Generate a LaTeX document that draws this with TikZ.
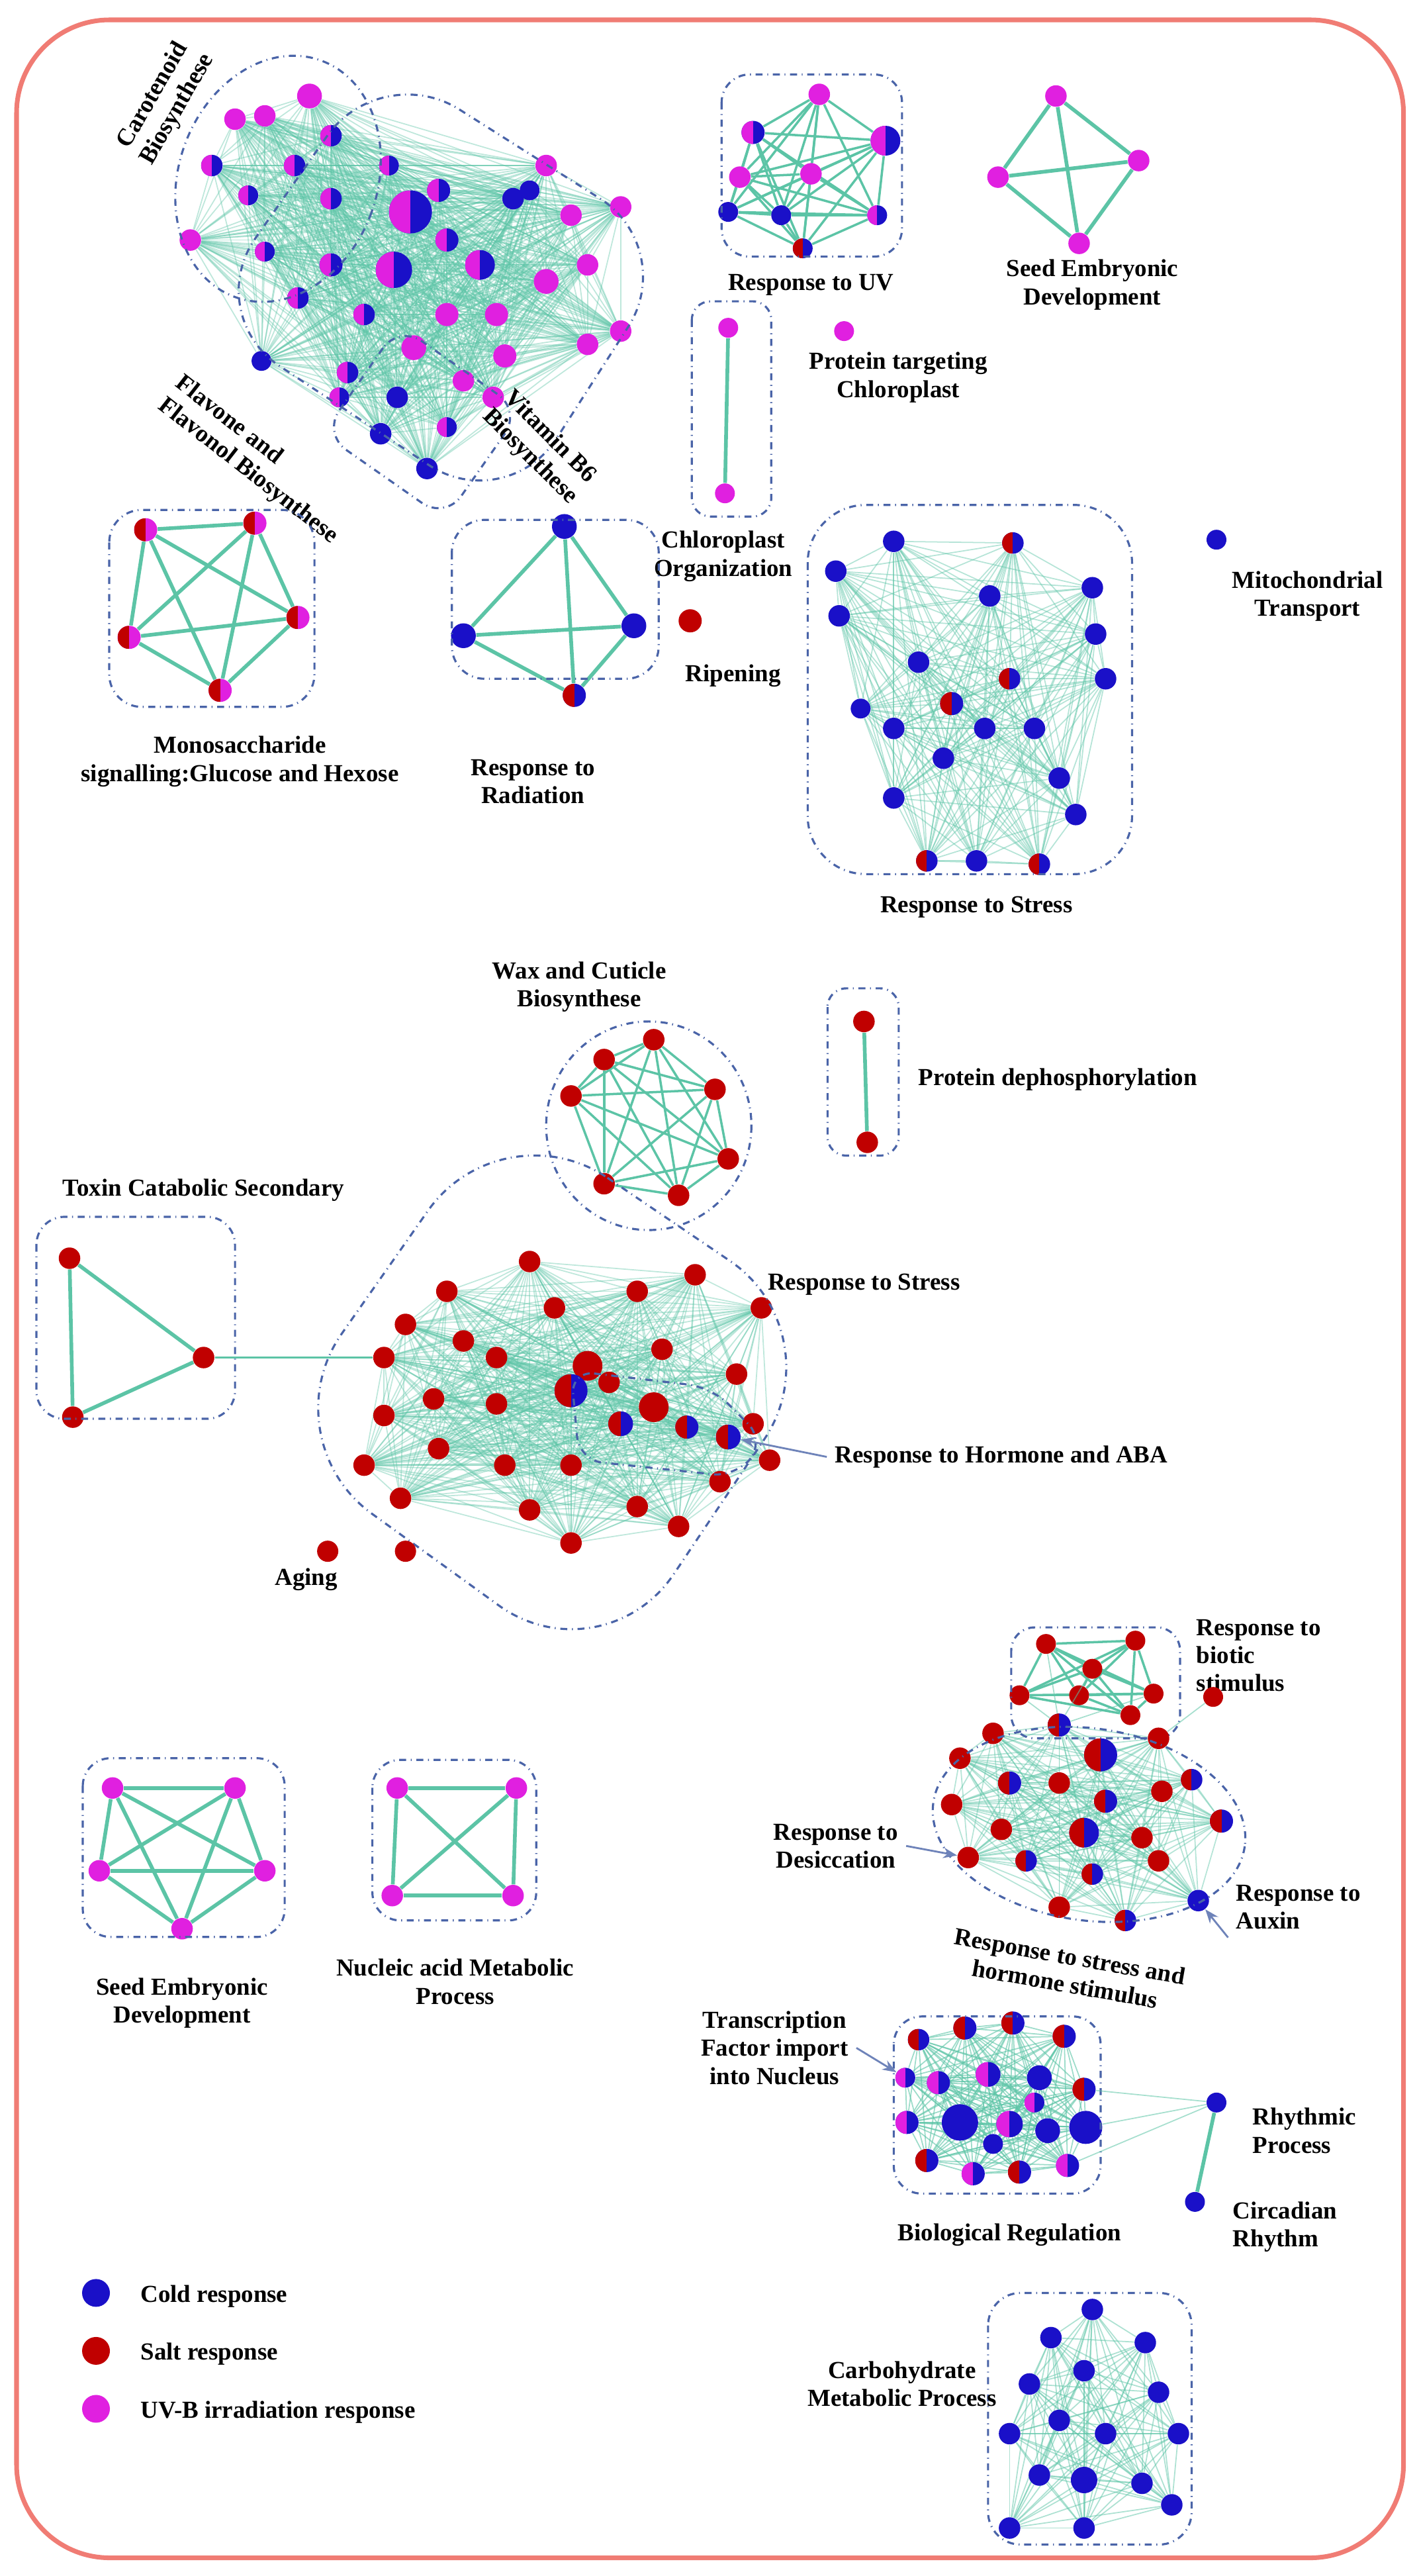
\documentclass[tikz,border=0pt]{standalone}
\usepackage{fontspec}
\setmainfont{Liberation Serif}
\usetikzlibrary{backgrounds,arrows.meta,shapes.geometric}
\definecolor{cB}{HTML}{1A10C8}
\definecolor{cR}{HTML}{C00000}
\definecolor{cU}{HTML}{E020E0}
\definecolor{cE}{HTML}{5CC4A6}
\definecolor{cF}{HTML}{F07C74}
\definecolor{cD}{HTML}{4A64A8}
\tikzset{
 x=0.025cm,y=-0.025cm,
 nd/.style={circle,inner sep=0pt,draw=none},
 nb/.style={nd,fill=cB}, nr/.style={nd,fill=cR}, nu/.style={nd,fill=cU},
 sp/.style 2 args={nd,fill=#2,path picture={\fill[#1] (path picture bounding box.south west) rectangle (path picture bounding box.north);}},
 nbr/.style={sp={cR}{cB}}, nbu/.style={sp={cU}{cB}}, nru/.style={sp={cR}{cU}},
 edge/.style={draw=cE,line width=0.5pt,opacity=0.55},
 edgeT/.style={draw=cE,line width=1.6pt},
 reg/.style={draw=cD,dash dot,line width=0.9pt},
 lab/.style={font=\fontsize{10.5}{12}\selectfont\bfseries,align=center},
 arr/.style={draw=cD!80,-{Stealth[length=6pt]},line width=0.8pt}
}
\newcommand\mkclust[4]{%
 \foreach \i/\x/\y/\t/\r in {#2} {\node[\t,minimum size=\r*0.025cm] (#1\i) at (\x,\y) {};}
 \begin{pgfonlayer}{background}
 \foreach \i in {1,...,#3} {\foreach \j in {1,...,#3} {\ifnum\i<\j \draw[#4] (#1\i)--(#1\j);\fi}}
 \end{pgfonlayer}}
\begin{document}
\begin{tikzpicture}
\useasboundingbox (0,0) rectangle (857,1556);
\draw[cF,line width=2pt,rounded corners=40] (10,12) rectangle (848,1545);
% ---- cluster A
\mkclust{a}{1/142/72/nu/13,2/160/70/nu/13,3/187/58/nu/15,4/200/82/nbu/13,5/128/100/nbu/13,6/150/118/nbu/12,7/115/145/nu/13,8/160/152/nbu/12,9/178/100/nbu/13,10/200/120/nbu/13,11/235/100/nbu/12,12/248/128/nbu/26,13/238/163/nbu/22,14/265/115/nbu/14,15/270/145/nbu/14,16/290/160/nbu/18,17/310/120/nb/13,18/330/100/nu/13,19/345/130/nu/13,20/375/125/nu/13,21/355/160/nu/13,22/330/170/nu/15,23/300/190/nu/14,24/270/190/nu/14,25/250/210/nu/15,26/220/190/nbu/13,27/200/160/nbu/14,28/180/180/nbu/13,29/210/225/nbu/13,30/240/240/nb/13,31/280/230/nu/13,32/305/215/nu/14,33/270/258/nbu/12,34/230/262/nb/13,35/205/240/nbu/12,36/298/240/nu/13,37/258/283/nb/13,38/158/218/nb/12,39/375/200/nu/13,40/320/115/nb/12,41/355/208/nu/13}{41}{edge,opacity=0.4}
\draw[reg,rotate around={-20:(168,108)}] (168,108) ellipse [x radius=60,y radius=76];
\draw[reg,rounded corners=40] (230,36)--(410,150)--(306,312)--(122,190)--cycle;
\draw[reg,rounded corners=12,rotate around={-35:(255,255)}] (210,215) rectangle (300,295);
\node[lab,rotate=60] (tA1) at (100,62) {Carotenoid\\Biosynthese};
\node[lab,rotate=-38,align=left] (tA2) at (155,278) {Flavone and\\Flavonol Biosynthese};
\node[lab,rotate=-45] (tA3) at (326,270) {Vitamin B6\\Biosynthese};
% ---- Response to UV
\mkclust{b}{1/495/57/nu/13,2/455/80/nbu/14,3/535/85/nbu/18,4/447/107/nu/13,5/490/105/nu/13,6/440/128/nb/12,7/472/130/nb/12,8/530/130/nbu/12,9/485/150/nbr/12}{9}{edgeT,line width=1pt}
\draw[reg,rounded corners=12] (436,45) rectangle (545,155);
\node[lab] (tB) at (490,172) {Response to UV};
% ---- Seed top
\mkclust{c}{1/638/58/nu/13,2/603/107/nu/13,3/688/97/nu/13,4/652/147/nu/13}{4}{edgeT}
\node[lab] (tC) at (660,172) {Seed Embryonic\\Development};
% ---- Chloroplast
\mkclust{d}{1/440/198/nu/12,2/438/298/nu/12}{2}{edgeT}
\draw[reg,rounded corners=8] (418,182) rectangle (466,312);
\node[lab] (tD) at (437,336) {Chloroplast\\Organization};
\node[nu,minimum size=0.3cm] (pt) at (510,200) {};
\node[lab,anchor=west] (tPT) at (484,228) {Protein targeting\\Chloroplast};
\node[nb,minimum size=0.3cm] (mt) at (735,326) {};
\node[lab] (tMT) at (790,360) {Mitochondrial\\Transport};
% ---- Monosaccharide
\mkclust{e}{1/88/320/nru/14,2/154/316/nru/14,3/78/385/nru/14,4/180/373/nru/14,5/133/417/nru/14}{5}{edgeT}
\draw[reg,rounded corners=14] (66,308) rectangle (190,427);
\node[lab] (tE) at (145,460) {Monosaccharide\\signalling:Glucose and Hexose};
% ---- Radiation
\mkclust{f}{1/341/318/nb/15,2/280/384/nb/15,3/383/378/nb/15,4/347/420/nbr/14}{4}{edgeT}
\draw[reg,rounded corners=14] (273,314) rectangle (398,410);
\node[lab] (tF) at (322,472) {Response to\\Radiation};
\node[nr,minimum size=0.35cm] (rp) at (417,375) {};
\node[lab] (tRP) at (443,408) {Ripening};
% ---- Response to Stress top
\mkclust{g}{1/540/327/nb/13,2/612/328/nbr/13,3/505/345/nb/13,4/598/360/nb/13,5/660/355/nb/13,6/507/372/nb/13,7/662/383/nb/13,8/555/400/nb/13,9/575/425/nbr/14,10/610/410/nbr/13,11/625/440/nb/13,12/595/440/nb/13,13/540/440/nb/13,14/570/458/nb/13,15/668/410/nb/13,16/640/470/nb/13,17/540/482/nb/13,18/560/520/nbr/13,19/590/520/nb/13,20/628/522/nbr/13,21/650/492/nb/13,22/520/428/nb/12}{22}{edge,opacity=0.45}
\draw[reg,rounded corners=25] (488,305) rectangle (684,528);
\node[lab] (tG) at (590,548) {Response to Stress};
% ---- Wax
\mkclust{h}{1/365/640/nr/13,2/395/628/nr/13,3/432/658/nr/13,4/345/662/nr/13,5/440/700/nr/13,6/365/715/nr/13,7/410/722/nr/13}{7}{edgeT,line width=1pt}
\draw[reg] (392,680) ellipse [x radius=62,y radius=63];
\node[lab] (tH) at (350,596) {Wax and Cuticle\\Biosynthese};
\mkclust{p}{1/522/617/nr/13,2/524/690/nr/13}{2}{edgeT}
\draw[reg,rounded corners=8] (500,597) rectangle (543,698);
\node[lab,anchor=west] (tP) at (550,652) {Protein dephosphorylation};
% ---- big red cluster
\mkclust{m}{1/320/762/nr/13,2/270/780/nr/13,3/335/790/nr/13,4/385/780/nr/13,5/420/770/nr/13,6/460/790/nr/13,7/232/820/nr/13,8/245/800/nr/13,9/300/820/nr/13,10/355/825/nr/18,11/400/815/nr/13,12/445/830/nr/13,13/232/855/nr/13,14/262/845/nr/13,15/300/848/nr/13,16/345/840/nbr/20,17/395/850/nr/18,18/375/860/nbr/15,19/415/862/nbr/14,20/455/860/nr/13,21/220/885/nr/13,22/265/875/nr/13,23/305/885/nr/13,24/242/905/nr/13,25/345/885/nr/13,26/440/868/nbr/15,27/465/882/nr/13,28/320/912/nr/13,29/345/932/nr/13,30/385/910/nr/13,31/410/922/nr/13,32/435/895/nr/13,33/368/835/nr/13,34/280/810/nr/13}{34}{edge,opacity=0.4}
\draw[reg,rounded corners=55] (303,668)--(505,805)--(364,1015)--(162,869)--cycle;
\draw[reg,rounded corners=10] (345,828)--(430,838)--(462,870)--(445,892)--(350,882)--cycle;
\node[lab] (tM) at (522,776) {Response to Stress};
\node[lab] (tHA) at (605,880) {Response to Hormone and ABA};
\draw[arr] (tHA.west) -- (m26);
% toxin
\mkclust{t}{1/42/760/nr/13,2/123/820/nr/13,3/44/856/nr/13}{3}{edgeT}
\draw[edgeT,line width=0.8pt] (t2) -- (m7);
\draw[reg,rounded corners=12] (22,735) rectangle (142,857);
\node[lab] (tT) at (123,719) {Toxin Catabolic Secondary};
\node[nr,minimum size=0.32cm] (ag1) at (198,937) {};
\node[nr,minimum size=0.32cm] (ag2) at (245,937) {};
\node[lab] (tAG) at (185,954) {Aging};
% ---- seed bottom
\mkclust{s}{1/68/1080/nu/13,2/142/1080/nu/13,3/60/1130/nu/13,4/160/1130/nu/13,5/110/1165/nu/13}{5}{edgeT}
\draw[reg,rounded corners=12] (50,1062) rectangle (172,1170);
\node[lab] (tS) at (110,1210) {Seed Embryonic\\Development};
\mkclust{n}{1/240/1080/nu/13,2/312/1080/nu/13,3/237/1145/nu/13,4/310/1145/nu/13}{4}{edgeT}
\draw[reg,rounded corners=12] (225,1063) rectangle (324,1160);
\node[lab] (tN) at (275,1197) {Nucleic acid Metabolic\\Process};
% ---- biotic
\mkclust{q}{1/632/993/nr/12,2/686/991/nr/12,3/697/1023/nr/12,4/652/1024/nr/12,5/616/1024/nr/12,6/683/1036/nr/12,7/660/1008/nr/12}{7}{edgeT,line width=1pt}
\draw[reg,rounded corners=10] (611,983) rectangle (713,1050);
\node[lab,align=left,anchor=west] (tQ) at (718,1000) {Response to\\biotic\\stimulus};
\node[nr,minimum size=0.3cm] (q8) at (733,1025) {};
% ---- stress/hormone
\mkclust{k}{1/600/1047/nr/13,2/640/1042/nbr/14,3/665/1060/nbr/20,4/700/1050/nr/13,5/580/1062/nr/13,6/575/1090/nr/13,7/610/1077/nbr/14,8/640/1077/nr/13,9/668/1088/nbr/14,10/702/1082/nr/13,11/738/1100/nbr/14,12/605/1105/nr/13,13/655/1107/nbr/18,14/690/1110/nr/13,15/585/1122/nr/13,16/620/1124/nbr/13,17/660/1132/nbr/13,18/700/1124/nr/13,19/680/1160/nbr/13,20/724/1148/nb/13,21/640/1152/nr/13,22/720/1075/nbr/13}{22}{edge,opacity=0.45}
\foreach \k in {1,3,5,7} \draw[edge] (q\k) -- (k2);
\draw[edge] (q8) -- (k4);
\draw[reg,rotate around={-8:(658,1102)}] (658,1102) ellipse [x radius=95,y radius=58];
\node[lab] (tDS) at (505,1115) {Response to\\Desiccation};
\draw[arr] (tDS.east) -- (k15);
\node[lab,align=left,anchor=west] (tAX) at (742,1152) {Response to\\Auxin};
\draw[arr] (tAX.south west) -- (k20);
\node[lab,rotate=-10] (tK) at (645,1190) {Response to stress and\\hormone stimulus};
% ---- biological regulation
\mkclust{r}{1/555/1232/nbr/13,2/583/1225/nbr/14,3/612/1222/nbr/14,4/643/1230/nbr/14,5/567/1258/nbu/14,6/597/1253/nbu/15,7/628/1255/nb/15,8/655/1262/nbr/14,9/548/1282/nbu/14,10/580/1282/nb/22,11/610/1283/nbu/16,12/633/1287/nb/15,13/656/1285/nb/20,14/560/1305/nbr/14,15/588/1313/nbu/14,16/616/1312/nbr/14,17/645/1308/nbu/14,18/600/1295/nb/12,19/625/1270/nbu/12,20/547/1255/nbu/12}{20}{edge,opacity=0.6}
\draw[reg,rounded corners=12] (540,1218) rectangle (665,1325);
\node[lab] (tR) at (610,1350) {Biological Regulation};
\node[lab] (tTF) at (468,1237) {Transcription\\Factor import\\into Nucleus};
\draw[arr] (tTF.east) -- (r20);
\node[nb,minimum size=0.3cm] (rh1) at (735,1270) {};
\node[nb,minimum size=0.3cm] (rh2) at (722,1330) {};
\draw[edgeT] (rh1) -- (rh2);
\foreach \k in {8,13,17} \draw[edge] (r\k) -- (rh1);
\node[lab,align=left,anchor=west] (tRH) at (752,1287) {Rhythmic\\Process};
\node[lab,align=left,anchor=west] (tCR) at (740,1345) {Circadian\\Rhythm};
% ---- carbohydrate
\mkclust{w}{1/660/1395/nb/13,2/635/1412/nb/13,3/692/1415/nb/13,4/622/1440/nb/13,5/655/1432/nb/13,6/700/1445/nb/13,7/610/1470/nb/13,8/640/1462/nb/13,9/668/1470/nb/13,10/712/1470/nb/13,11/628/1495/nb/13,12/655/1498/nb/16,13/690/1500/nb/13,14/708/1513/nb/13,15/610/1527/nb/13,16/655/1527/nb/13}{16}{edge,opacity=0.5}
\draw[reg,rounded corners=14] (597,1385) rectangle (720,1537);
\node[lab] (tW) at (545,1440) {Carbohydrate\\Metabolic Process};
% ---- legend
\node[nb,minimum size=0.42cm] (L1) at (58,1385) {};
\node[nr,minimum size=0.42cm] (L2) at (58,1420) {};
\node[nu,minimum size=0.42cm] (L3) at (58,1455) {};
\node[lab,anchor=west] (tL1) at (80,1387) {Cold response};
\node[lab,anchor=west] (tL2) at (80,1422) {Salt response};
\node[lab,anchor=west] (tL3) at (80,1457) {UV-B irradiation response};
\end{tikzpicture}
\end{document}
